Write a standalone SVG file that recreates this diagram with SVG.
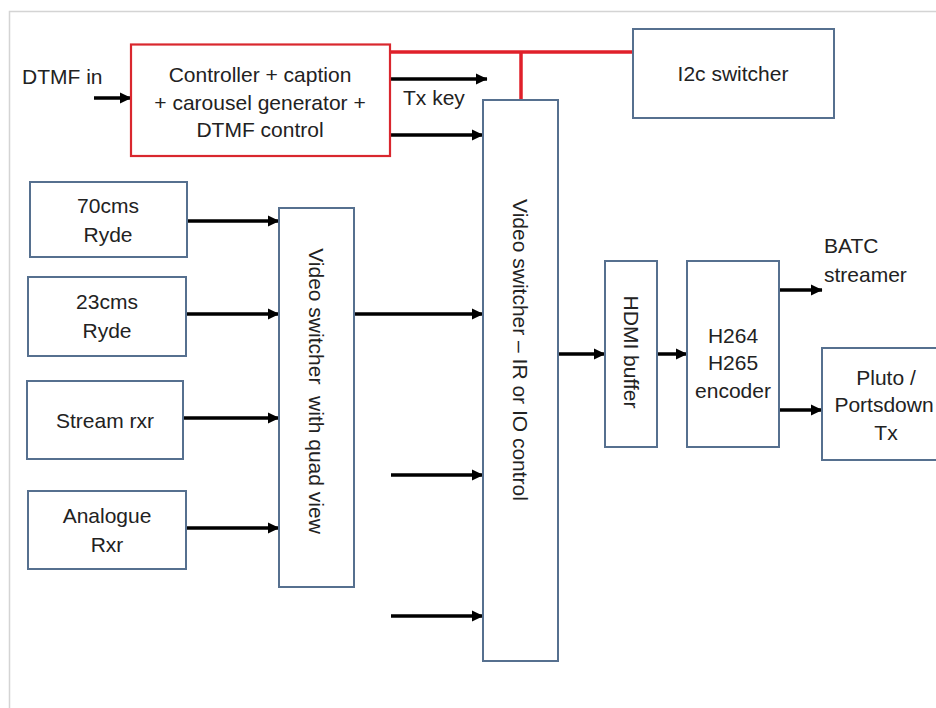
<svg xmlns="http://www.w3.org/2000/svg" width="936" height="708" viewBox="0 0 936 708">
<defs>
<marker id="ah" markerWidth="12" markerHeight="12" refX="11" refY="6" orient="auto" markerUnits="userSpaceOnUse">
<path d="M0,0.5 L11.5,6 L0,11.5 Z" fill="#000"/>
</marker>
<style>
.box{fill:#fff;stroke:#56708f;stroke-width:2}
.rbox{fill:#fff;stroke:#d9272e;stroke-width:2.2}
.t{font-family:"Liberation Sans",Arial,sans-serif;font-size:21px;fill:#222;text-anchor:middle}
.tl{font-family:"Liberation Sans",Arial,sans-serif;font-size:21px;fill:#222}
.c{stroke:#000;stroke-width:3.4;fill:none;marker-end:url(#ah)}
.red{stroke:#e0202a;stroke-width:3.5;fill:none}
</style>
</defs>
<rect width="936" height="708" fill="#fff"/>
<path d="M9.5,708 V11.5 H936" fill="none" stroke="#d4d4d4" stroke-width="1.5"/>

<g id="connectors">
<path class="red" d="M390,52 H633"/>
<path class="red" d="M521,52 V100"/>
<line class="c" x1="94" y1="98" x2="131" y2="98"/>
<line class="c" x1="391" y1="79" x2="487" y2="79"/>
<line class="c" x1="391" y1="135" x2="483" y2="135"/>
<line class="c" x1="187" y1="221" x2="279" y2="221"/>
<line class="c" x1="186" y1="314" x2="279" y2="314"/>
<line class="c" x1="183" y1="418" x2="279" y2="418"/>
<line class="c" x1="186" y1="528" x2="279" y2="528"/>
<line class="c" x1="354" y1="314" x2="483" y2="314"/>
<line class="c" x1="391" y1="475" x2="483" y2="475"/>
<line class="c" x1="391" y1="616" x2="483" y2="616"/>
<line class="c" x1="558" y1="354" x2="605" y2="354"/>
<line class="c" x1="653" y1="354" x2="687" y2="354"/>
<line class="c" x1="779" y1="290" x2="822" y2="290"/>
<line class="c" x1="779" y1="410" x2="822" y2="410"/>
</g>

<g id="dtmf-in"><text class="tl" x="22" y="84">DTMF in</text></g>
<g id="tx-key"><text class="tl" x="403" y="105">Tx key</text></g>
<g id="batc"><text class="tl" x="824" y="253">BATC</text><text class="tl" x="824" y="282">streamer</text></g>

<g id="controller">
<rect class="rbox" x="131" y="44.5" width="259" height="111.5"/>
<text class="t" x="260" y="82">Controller + caption</text>
<text class="t" x="260" y="110">+ carousel generator +</text>
<text class="t" x="260" y="137">DTMF control</text>
</g>

<g id="i2c">
<rect class="box" x="633" y="29" width="201" height="89"/>
<text class="t" x="733" y="81">I2c switcher</text>
</g>

<g id="r70">
<rect class="box" x="30" y="182" width="157" height="75"/>
<text class="t" x="108" y="213">70cms</text>
<text class="t" x="108" y="242">Ryde</text>
</g>
<g id="r23">
<rect class="box" x="28" y="277" width="158" height="79"/>
<text class="t" x="107" y="309">23cms</text>
<text class="t" x="107" y="338">Ryde</text>
</g>
<g id="stream">
<rect class="box" x="27" y="381" width="156" height="78"/>
<text class="t" x="105" y="428">Stream rxr</text>
</g>
<g id="analogue">
<rect class="box" x="28" y="491" width="158" height="78"/>
<text class="t" x="107" y="523">Analogue</text>
<text class="t" x="107" y="552">Rxr</text>
</g>

<g id="quad">
<rect class="box" x="279" y="208" width="75" height="379"/>
<text class="t" transform="translate(316,391) rotate(90)" x="0" y="7" style="white-space:pre">Video switcher  with quad view</text>
</g>

<g id="main-switcher">
<rect class="box" x="483" y="100" width="75" height="561"/>
<text class="t" transform="translate(520,350) rotate(90)" x="0" y="7">Video switcher – IR or IO control</text>
</g>

<g id="hdmi">
<rect class="box" x="605" y="261" width="52" height="186"/>
<text class="t" transform="translate(631,352) rotate(90)" x="0" y="7">HDMI buffer</text>
</g>

<g id="encoder">
<rect class="box" x="687" y="261" width="92" height="186"/>
<text class="t" x="733" y="343">H264</text>
<text class="t" x="733" y="370">H265</text>
<text class="t" x="733" y="398">encoder</text>
</g>

<g id="pluto">
<rect class="box" x="822" y="348" width="130" height="112"/>
<text class="t" x="886" y="385">Pluto /</text>
<text class="t" x="884" y="412">Portsdown</text>
<text class="t" x="886" y="440">Tx</text>
</g>
</svg>
